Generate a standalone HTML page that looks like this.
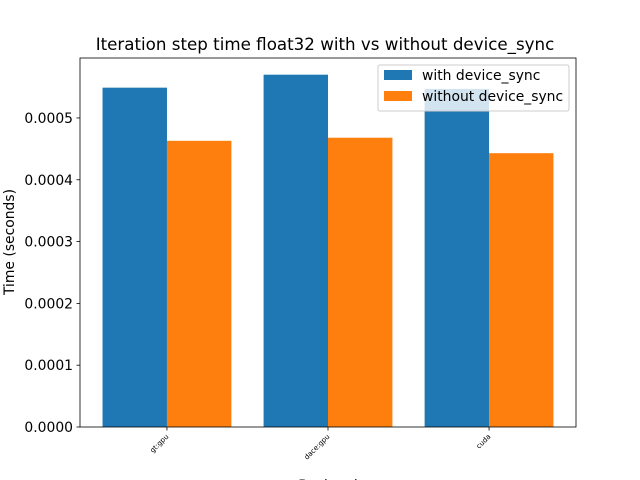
<!DOCTYPE html>
<html><head><meta charset="utf-8"><style>
body{margin:0;background:#fff}svg{display:block;font-family:"DejaVu Sans","Liberation Sans",sans-serif}
</style></head><body>
<svg id="c" width="640" height="480">
<rect width="640" height="480" fill="#fff"/>
</svg>
<script>
const categories=["gt:gpu","dace:gpu","cuda"];
const withSync=[0.000549,0.000570,0.000547];
const withoutSync=[0.000463,0.000468,0.000443];
const yTicks=[0,0.0001,0.0002,0.0003,0.0004,0.0005];
const yTickLabels=["0.0000","0.0001","0.0002","0.0003","0.0004","0.0005"];
const L=80,R=576,T=58,B=427;
const xmin=-0.54,xmax=2.54,ymax=0.000597;
const X=v=>L+(v-xmin)/(xmax-xmin)*(R-L);
const Y=v=>B-v/ymax*(B-T);
const svg=document.getElementById('c');const NS='http://www.w3.org/2000/svg';
function mk(t,a,p){const e=document.createElementNS(NS,t);for(const k in a)e.setAttribute(k,a[k]);(p||svg).appendChild(e);return e;}
const bw=0.4;
categories.forEach((c,i)=>{
 let b=mk('rect',{x:X(i-bw),y:Y(withSync[i]),width:X(i)-X(i-bw),height:B-Y(withSync[i]),fill:'#1f77b4'});
 
 
 let o=mk('rect',{x:X(i),y:Y(withoutSync[i]),width:X(i+bw)-X(i),height:B-Y(withoutSync[i]),fill:'#ff7f0e'});
 
 
 mk('line',{x1:X(i),x2:X(i),y1:B,y2:B+3.5,stroke:'#000','stroke-width':0.8});
 let t=mk('text',{x:X(i)+2,y:B+10,'font-size':7,'text-anchor':'end',transform:`rotate(-45 ${X(i)+2} ${B+10})`});
 t.textContent=c;
 
 
});
yTicks.forEach((v,i)=>{
 mk('line',{x1:L-3.5,x2:L,y1:Y(v),y2:Y(v),stroke:'#000','stroke-width':0.8});
 let t=mk('text',{x:L-7,y:Y(v)+5,'font-size':13.9,'text-anchor':'end'});
 t.textContent=yTickLabels[i];
 
 
});
mk('rect',{x:L,y:T,width:R-L,height:B-T,fill:'none',stroke:'#000','stroke-width':0.8});
</script>
<svg style="position:absolute;left:0;top:0" width="640" height="480">
<text x="325" y="50" font-size="16.7" text-anchor="middle">Iteration step time float32 with vs without device_sync</text>
<text x="14" y="242" font-size="13.9" text-anchor="middle" transform="rotate(-90 14 242)">Time (seconds)</text>
<text x="328" y="490" font-size="13.9" text-anchor="middle">Backend</text>
<g>
<rect x="378" y="65" width="191" height="46" rx="2" fill="#fff" fill-opacity="0.8" stroke="#ccc"/>
<rect x="384" y="70" width="28" height="10" fill="#1f77b4"/>
<text x="422" y="80" font-size="13.9">with device_sync</text>
<rect x="384" y="91" width="28" height="10" fill="#ff7f0e"/>
<text x="422" y="101" font-size="13.9">without device_sync</text>
</g>
</svg>
</body></html>
